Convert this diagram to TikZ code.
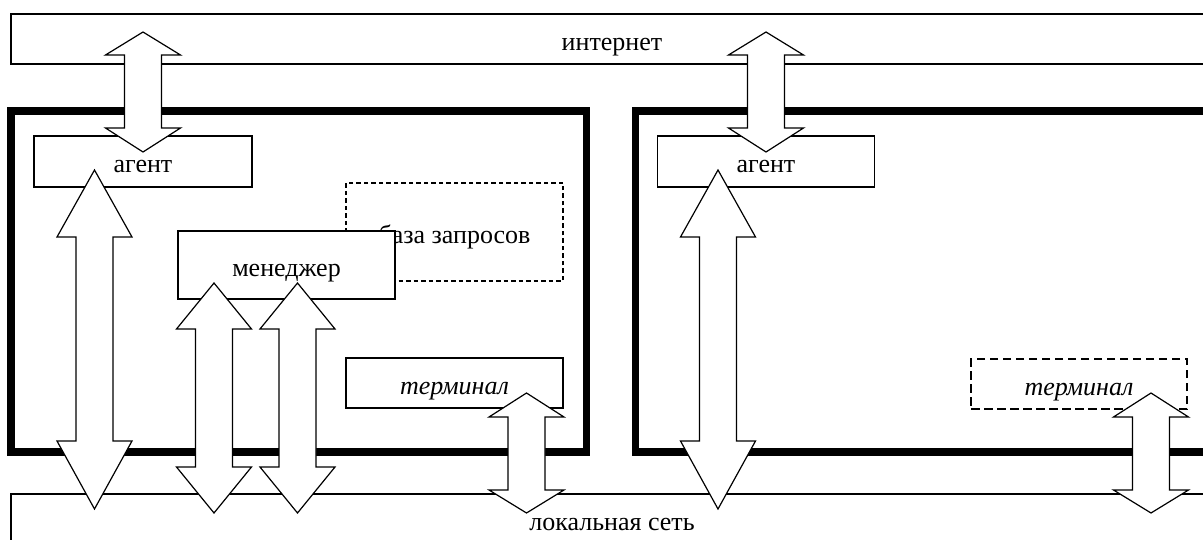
\documentclass[tikz,border=0pt]{standalone}
\usepackage{fontspec}
\setmainfont{Liberation Serif}
\usetikzlibrary{calc}

% double block arrow: top tip, bottom tip, top head length, bottom head length
\newcommand{\bidir}[4]{%
  \draw[blockarrow] let \p1=(#1), \p2=(#2) in
    (\x1,\y1) -- (\x1+37.5pt,\y1-#3) -- (\x1+18.5pt,\y1-#3)
    -- (\x1+18.5pt,\y2+#4) -- (\x1+37.5pt,\y2+#4) -- (\x1,\y2)
    -- (\x1-37.5pt,\y2+#4) -- (\x1-18.5pt,\y2+#4)
    -- (\x1-18.5pt,\y1-#3) -- (\x1-37.5pt,\y1-#3) -- cycle;}

\begin{document}
\begin{tikzpicture}[x=1pt,y=-1pt,
    every node/.style={font=\fontsize{26}{30}\selectfont, text height=22.5pt, text depth=0pt, inner sep=0pt, outer sep=0pt},
    netbox/.style={draw, line width=1.2pt, minimum width=1202pt, minimum height=50pt},
    hostbox/.style={draw, line width=7.5pt, minimum height=341pt},
    box/.style={draw, fill=white, line width=1.5pt, minimum width=217pt, minimum height=50pt},
    dotbox/.style={box, line width=2.4pt, dash pattern=on 4.5pt off 3pt},
    dashbox/.style={box, line width=1.8pt, dash pattern=on 8.5pt off 4.5pt},
    blockarrow/.style={draw, fill=white, line width=1.2pt, line join=miter}]
  \useasboundingbox (0,0) rectangle (1203,540);
  \clip (0,0) rectangle (1203,540);

  % Draw the networks
  \node[netbox] (inet) at (612,39) {интернет};
  \node[netbox, minimum height=51pt] (lan) at (612,519.5) {локальная сеть};

  % Draw the hosts
  \node[hostbox, minimum width=575.5pt] (hostL) at (298.75,281.5) {};
  \node[hostbox, minimum width=585pt] (hostR) at (928,281.5) {};

  % Draw the left host parts
  \node[dotbox, minimum height=98pt] (base) at (454.5,232) {база запросов};
  \node[box, minimum width=218pt, minimum height=51pt] (agentL) at (143,161.5) {агент};
  \node[box, minimum height=68pt] (manager) at (286.5,265) {менеджер};
  \node[box] (termL) at (454.5,383) {\itshape терминал};

  % Draw the right host parts
  \node[box, minimum height=51pt] (agentR) at (766,161.5) {агент};
  \node[dashbox, minimum width=216pt] (termR) at (1079,384) {\itshape терминал};

  % Draw the arrows
  \bidir{$(agentL.north |- inet.north)+(0,18)$}{$(agentL.north)+(0,16)$}{23pt}{24pt}
  \bidir{$(agentR.north |- inet.north)+(0,18)$}{$(agentR.north)+(0,16)$}{23pt}{24pt}
  \bidir{$(agentL.south west)+(60.5,-17)$}{$(agentL.south west |- lan.north)+(60.5,15)$}{67pt}{68pt}
  \bidir{$(manager.south west)+(36,-16)$}{$(manager.south west |- lan.north)+(36,19)$}{46pt}{46pt}
  \bidir{$(manager.south)+(11,-16)$}{$(manager.south |- lan.north)+(11,19)$}{46pt}{46pt}
  \bidir{$(termL.south east)+(-36.5,-15)$}{$(termL.south east |- lan.north)+(-36.5,19)$}{24pt}{23pt}
  \bidir{$(agentR.south west)+(60.5,-17)$}{$(agentR.south west |- lan.north)+(60.5,15)$}{67pt}{68pt}
  \bidir{$(termR.south east)+(-36,-16)$}{$(termR.south east |- lan.north)+(-36,19)$}{24pt}{23pt}
\end{tikzpicture}
\end{document}
